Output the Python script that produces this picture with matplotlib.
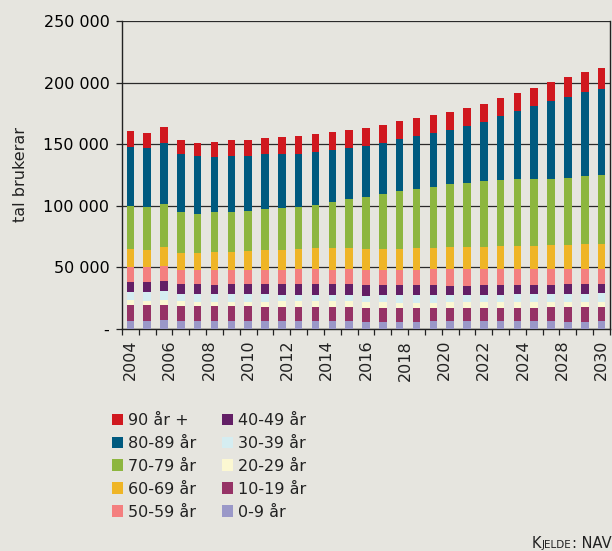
#!/usr/bin/env python3
# -*- coding: utf-8 -*-
import numpy as np
import matplotlib
matplotlib.use("Agg")
import matplotlib.pyplot as plt
from matplotlib.ticker import FuncFormatter, MultipleLocator
from matplotlib.offsetbox import TextArea, HPacker, AnchoredOffsetbox

# Data (thousands of users), one value per bar, 29 bars
n_bars = 29
age_0_9 = [6.0, 6.0, 6.8, 6.0, 6.0, 6.0, 6.0, 6.0, 6.0, 6.0, 6.0, 6.0, 6.0, 6.0,
           5.4, 5.4, 5.4, 5.4, 6.2, 6.2, 6.2, 6.2, 6.2, 6.2, 6.2, 6.2, 5.4, 5.4, 6.2]
age_10_19 = [13.0, 13.0, 12.2, 12.2, 12.2, 12.2, 12.2, 12.2, 11.4, 11.4, 11.4, 11.4, 11.4, 11.4,
             11.4, 11.4, 11.4, 11.4, 10.6, 10.6, 10.6, 10.6, 10.6, 10.6, 10.6, 11.4, 12.2, 12.2, 11.4]
age_20_29 = [4.1, 3.3, 4.1, 4.1, 3.3, 3.3, 3.3, 3.3, 4.1, 4.9, 4.9, 4.9, 4.9, 4.9,
             4.9, 4.9, 4.1, 4.1, 4.1, 4.9, 4.9, 4.9, 4.9, 4.9, 4.9, 4.1, 4.1, 4.1, 4.1]
age_30_39 = [6.5, 7.3, 7.3, 5.7, 6.5, 6.5, 6.5, 6.5, 6.5, 4.9, 4.9, 4.9, 4.9, 4.9,
             4.9, 5.7, 6.5, 6.5, 6.5, 5.7, 5.7, 5.7, 5.7, 6.5, 6.5, 6.5, 6.5, 6.5, 7.3]
age_40_49 = [8.2, 8.2, 8.2, 8.2, 8.2, 7.3, 8.2, 8.2, 8.2, 9.0, 9.0, 9.0, 9.0, 9.0,
             8.9, 8.1, 8.1, 8.1, 8.1, 7.3, 7.3, 8.1, 8.1, 7.3, 7.3, 7.3, 8.1, 8.1, 7.3]
age_50_59 = [12.2, 12.2, 12.2, 11.4, 11.4, 12.2, 11.4, 11.4, 11.4, 11.4, 12.2, 12.2, 11.4, 12.2,
             12.2, 12.2, 12.2, 12.2, 13.0, 13.8, 13.8, 13.0, 13.0, 13.0, 13.0, 13.0, 12.2, 12.2, 12.2]
age_60_69 = [14.7, 13.9, 15.5, 13.9, 13.9, 14.7, 14.7, 15.5, 16.3, 16.3, 16.3, 17.1, 17.9, 17.1,
             17.1, 17.1, 17.1, 17.9, 17.1, 17.9, 17.9, 17.9, 18.7, 18.7, 18.7, 19.5, 19.5, 20.3, 20.3]
age_70_79 = [34.8, 35.0, 35.0, 33.4, 31.8, 32.6, 32.6, 32.6, 33.4, 34.2, 34.2, 35.0, 37.5, 39.9,
             42.3, 44.7, 47.2, 48.0, 49.6, 51.2, 52.0, 53.7, 53.7, 54.5, 54.5, 53.7, 54.5, 55.3, 56.1]
age_80_89 = [48.4, 47.8, 49.7, 46.7, 46.7, 45.1, 45.6, 44.8, 44.3, 44.0, 43.2, 43.2, 42.4, 41.3,
             41.5, 41.2, 42.3, 43.1, 43.9, 43.9, 46.3, 48.0, 52.0, 55.3, 59.3, 63.4, 65.9, 68.3, 69.9]
age_90 = [12.8, 12.2, 13.0, 11.7, 10.9, 11.7, 12.8, 12.8, 13.3, 13.6, 14.4, 14.4, 14.4, 14.7,
          14.6, 14.9, 14.6, 14.6, 14.6, 14.6, 14.6, 14.6, 14.6, 14.6, 14.6, 15.4, 16.3, 16.3, 17.1]

year_labels = ["2004", "2006", "2008", "2010", "2012", "2014", "2016",
               "2018", "2020", "2022", "2024", "2028", "2030"]

groups = [
    ("0-9 år", age_0_9, "#9a98c8"),
    ("10-19 år", age_10_19, "#963366"),
    ("20-29 år", age_20_29, "#fcf8d2"),
    ("30-39 år", age_30_39, "#d5edf1"),
    ("40-49 år", age_40_49, "#631f66"),
    ("50-59 år", age_50_59, "#f47f7f"),
    ("60-69 år", age_60_69, "#efb526"),
    ("70-79 år", age_70_79, "#8db63f"),
    ("80-89 år", age_80_89, "#005a7f"),
    ("90 år +", age_90, "#d0181f"),
]

bg = "#e6e5df"
plt.rcParams['font.family'] = ['DejaVu Sans']

fig = plt.figure(figsize=(6.12, 5.51), dpi=100, facecolor=bg)
ax = fig.add_axes([0.1993, 0.4034, 0.7974, 0.5585], facecolor=bg)

x = np.arange(n_bars)
bottom = np.zeros(n_bars)
handles = {}
for name, vals, col in groups:
    v = np.array(vals) * 1000
    b = ax.bar(x, v, width=0.45, bottom=bottom, color=col, label=name, zorder=3)
    handles[name] = b
    bottom += v

ax.set_xlim(-0.5, n_bars - 0.5)
ax.set_ylim(0, 250000)
ax.yaxis.set_major_locator(MultipleLocator(50000))
ax.yaxis.set_major_formatter(FuncFormatter(
    lambda v, p: "-" if v == 0 else "{:,.0f}".format(v).replace(",", " ")))
ax.grid(axis='y', color='#2a2a2a', linewidth=0.9, zorder=1)
ax.tick_params(axis='y', length=4, width=0.9, labelsize=11.5, pad=5, color='#222222')

# year labels spread evenly along the axis, tick marks between bars
ax.set_xticks(np.linspace(0, n_bars - 1, len(year_labels)))
ax.set_xticklabels(year_labels, rotation=90, fontsize=11.5, color='#222222')
ax.tick_params(axis='x', which='major', length=0, pad=8)
ax.set_xticks(np.arange(-0.5, n_bars, 1.0), minor=True)
ax.tick_params(axis='x', which='minor', length=4, width=0.9, color='#222222')

for s in ['left', 'bottom', 'right']:
    ax.spines[s].set_color('#222222')
    ax.spines[s].set_linewidth(1.0)
ax.spines['top'].set_visible(False)

fig.text(0.033, 0.683, "tal brukerar", rotation=90, fontsize=11.5,
         ha='center', va='center', color='#222222')

order = ["90 år +", "80-89 år", "70-79 år", "60-69 år", "50-59 år",
         "40-49 år", "30-39 år", "20-29 år", "10-19 år", "0-9 år"]
leg = fig.legend([handles[k] for k in order], order, loc='upper left',
                 bbox_to_anchor=(0.183, 0.251), ncol=2, frameon=False,
                 fontsize=11.5, handlelength=0.7, handleheight=0.7,
                 handletextpad=0.3, columnspacing=1.6, labelspacing=0.5,
                 borderaxespad=0, borderpad=0)
for t in leg.get_texts():
    t.set_color('#222222')

# source note in small caps
parts = [TextArea("K", textprops=dict(fontsize=10.5, color='#222222')),
         TextArea("JELDE", textprops=dict(fontsize=7.5, color='#222222')),
         TextArea(": NAV", textprops=dict(fontsize=10.5, color='#222222'))]
box = HPacker(children=parts, align='baseline', pad=0, sep=0.5)
anch = AnchoredOffsetbox(loc='lower right', child=box, pad=0, frameon=False,
                         bbox_to_anchor=(1.0, 0.0), bbox_transform=fig.transFigure,
                         borderpad=0)
fig.add_artist(anch)

plt.savefig("out.png", facecolor=bg, dpi=100)
plt.close()
